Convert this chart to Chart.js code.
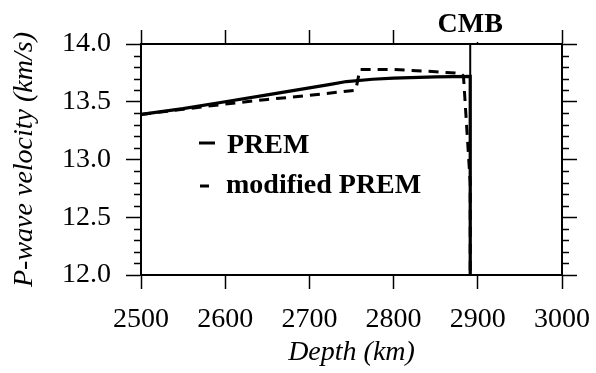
<!DOCTYPE html>
<html>
<head>
<meta charset="utf-8">
<script src="https://cdn.jsdelivr.net/npm/chart.js@4.4.1/dist/chart.umd.min.js"></script>
<style>
  html, body { margin: 0; padding: 0; background: #fff; }
  #grafico { display: block; }
</style>
</head>
<body>
<canvas id="grafico" width="596" height="373"></canvas>
<script>
// Datos
const depthPrem = [2500, 2550, 2600, 2650, 2700, 2725, 2744, 2775, 2800, 2850, 2891, 2891];
const vpPrem    = [13.39, 13.44, 13.50, 13.56, 13.62, 13.65, 13.675, 13.695, 13.705, 13.715, 13.72, 12.0];

const depthMod = [2500, 2550, 2600, 2625, 2650, 2700, 2755, 2760, 2800, 2850, 2880, 2883, 2891, 2891];
const vpMod    = [13.39, 13.435, 13.48, 13.50, 13.52, 13.555, 13.60, 13.78, 13.78, 13.76, 13.745, 13.72, 12.8, 12.0];

const cmbDepth = 2891;
const vpLimits = [12.0, 14.0];
const depthTicks = [2500, 2600, 2700, 2800, 2900, 3000];
const vpTicks = [12.0, 12.5, 13.0, 13.5, 14.0];

const serif = '"Liberation Serif", "Times New Roman", serif';
Chart.defaults.font.family = serif;
Chart.defaults.color = '#000';

function puntos(xs, ys) {
    return xs.map((x, i) => ({ x: x, y: ys[i] }));
}

// ticks menores cada 0.1 en los ejes verticales
const ticksMenores = {
    id: 'ticksMenores',
    afterDraw(chart) {
        const ctx = chart.ctx;
        const area = chart.chartArea;
        ctx.save();
        ctx.strokeStyle = '#000';
        ctx.lineWidth = 1.5;
        for (let i = 0; i <= 20; i++) {
            if (i % 5 === 0) continue;
            const v = vpLimits[0] + i * 0.1;
            const y = Math.round(chart.scales.y.getPixelForValue(v)) + 0.5;
            ctx.beginPath();
            ctx.moveTo(area.left - 7, y);
            ctx.lineTo(area.left, y);
            ctx.moveTo(area.right, y);
            ctx.lineTo(area.right + 7, y);
            ctx.stroke();
        }
        ctx.restore();
    }
};

// leyenda dentro del grafico y etiqueta CMB
const etiquetas = {
    id: 'etiquetas',
    afterDraw(chart) {
        const ctx = chart.ctx;
        const xCmb = chart.scales.x.getPixelForValue(cmbDepth);
        ctx.save();
        ctx.fillStyle = '#fff';
        ctx.fillRect(xCmb - 36, 6, 72, 36);
        ctx.fillStyle = '#000';
        ctx.font = 'bold 28px ' + serif;
        ctx.textAlign = 'center';
        ctx.textBaseline = 'alphabetic';
        ctx.fillText('CMB', xCmb, 32);

        const ds = chart.data.datasets;
        ctx.textAlign = 'left';
        ctx.strokeStyle = '#000';
        ctx.lineWidth = 3;
        // PREM
        ctx.beginPath();
        ctx.moveTo(199, 143);
        ctx.lineTo(215, 143);
        ctx.stroke();
        ctx.fillText(ds[0].label, 227, 153);
        // modified PREM
        ctx.beginPath();
        ctx.moveTo(200, 186);
        ctx.lineTo(209, 186);
        ctx.stroke();
        ctx.fillText(ds[1].label, 226, 193);
        ctx.restore();
    }
};

const ejeX = {
    type: 'linear', min: 2500, max: 3000,
    afterBuildTicks: s => { s.ticks = depthTicks.map(v => ({ value: v })); }
};

new Chart(document.getElementById('grafico'), {
    type: 'line',
    data: {
        datasets: [
            {
                label: 'PREM',
                data: puntos(depthPrem, vpPrem),
                borderColor: '#000', borderWidth: 3.2,
                pointRadius: 0, tension: 0, fill: false
            },
            {
                label: 'modified PREM',
                data: puntos(depthMod, vpMod),
                borderColor: '#000', borderWidth: 3,
                borderDash: [10, 7],
                pointRadius: 0, tension: 0, fill: false
            },
            {
                label: 'CMB',
                data: puntos([cmbDepth, cmbDepth], vpLimits),
                borderColor: '#000', borderWidth: 2,
                pointRadius: 0, tension: 0, fill: false
            }
        ]
    },
    options: {
        responsive: false,
        animation: false,
        devicePixelRatio: 1,
        layout: { padding: 0 },
        plugins: { legend: { display: false }, tooltip: { enabled: false } },
        scales: {
            x: Object.assign({}, ejeX, {
                position: 'bottom',
                ticks: { font: { size: 28 }, color: '#000', padding: 14, maxRotation: 0, autoSkip: false,
                         callback: v => String(v) },
                grid: { drawOnChartArea: false, tickLength: 14, tickColor: '#000', tickWidth: 1.5 },
                border: { color: '#000', width: 2 },
                title: { display: true, text: 'Depth (km)', color: '#000',
                         font: { size: 28, style: 'italic' }, padding: { top: 0, bottom: 4 } },
                afterFit: s => { s.height = 98; s.paddingLeft = 0; s.paddingRight = 0; }
            }),
            x2: Object.assign({}, ejeX, {
                position: 'top',
                ticks: { display: false },
                grid: { drawOnChartArea: false, tickLength: 14, tickColor: '#000', tickWidth: 1.5 },
                border: { color: '#000', width: 2 },
                afterFit: s => { s.height = 44; s.paddingLeft = 0; s.paddingRight = 0; }
            }),
            y: {
                type: 'linear', min: 12, max: 14, position: 'left',
                afterBuildTicks: s => { s.ticks = vpTicks.map(v => ({ value: v })); },
                ticks: { font: { size: 28 }, color: '#000', padding: 15,
                         callback: v => Number(v).toFixed(1) },
                grid: { drawOnChartArea: false, tickLength: 15, tickColor: '#000', tickWidth: 1.5 },
                border: { color: '#000', width: 2 },
                title: { display: true, text: 'P-wave velocity (km/s)', color: '#000',
                         font: { size: 28, style: 'italic' }, padding: { top: 8, bottom: 0 } },
                afterFit: s => { s.width = 141; s.paddingTop = 0; s.paddingBottom = 0; }
            },
            y2: {
                type: 'linear', min: 12, max: 14, position: 'right',
                afterBuildTicks: s => { s.ticks = vpTicks.map(v => ({ value: v })); },
                ticks: { display: false },
                grid: { drawOnChartArea: false, tickLength: 15, tickColor: '#000', tickWidth: 1.5 },
                border: { color: '#000', width: 2 },
                afterFit: s => { s.width = 34; s.paddingTop = 0; s.paddingBottom = 0; }
            }
        }
    },
    plugins: [ticksMenores, etiquetas]
});
</script>
</body>
</html>
